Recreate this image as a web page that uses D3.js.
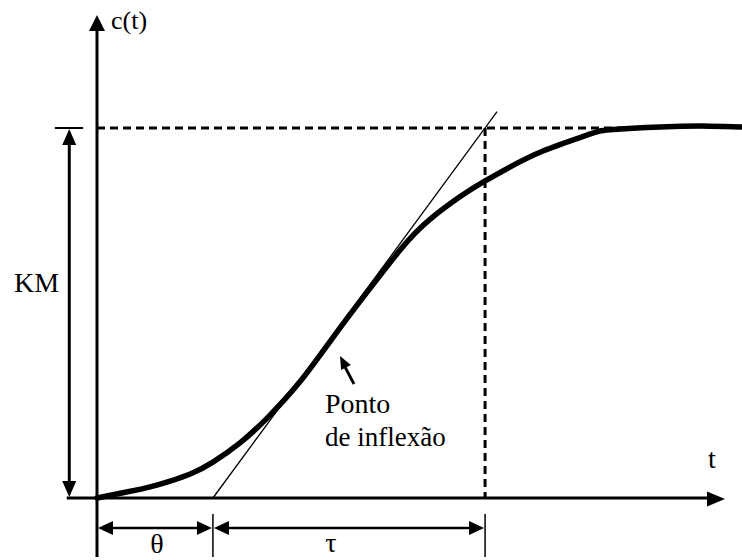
<!DOCTYPE html>
<html>
<head>
<meta charset="utf-8">
<script src="https://cdn.jsdelivr.net/npm/d3@7"></script>
<style>
  html, body { margin: 0; padding: 0; background: #fff; }
  svg { display: block; }
</style>
</head>
<body>
<svg id="chart" width="742" height="560"></svg>
<script>
// ---- data ----
const timeT    = [0, 0.41, 0.95, 1.48, 1.84, 2.27, 2.70, 3.22, 3.75, 4.29, 4.81, 5.05, 5.29, 5.76, 6.16, 6.56, 7.08, 7.78, 8.14, 8.94, 9.73, 10.24];
const response = [0, 0.014, 0.035, 0.065, 0.097, 0.149, 0.216, 0.314, 0.435, 0.557, 0.670, 0.716, 0.754, 0.814, 0.857, 0.895, 0.938, 0.981, 0.995, 1.003, 1.005, 1.003];
const tangentT = [1.84, 6.35];
const tangentC = [0, 1.044];
const deadTime = 1.84;      // θ
const tauEnd   = 6.16;      // θ + τ
const gainKM   = 1.0;       // KM
const labels = { yAxis: "c(t)", xAxis: "t", km: "KM", theta: "θ", tau: "τ", infl1: "Ponto", infl2: "de inflexão" };

// ---- scales ----
const x = d3.scaleLinear().domain([0, 10]).range([97, 727]);
const y = d3.scaleLinear().domain([0, 1]).range([498, 128]);

const svg = d3.select("#chart");
const FONT = "'Liberation Serif', 'Times New Roman', serif";

function headAt(tx, ty, angle, len, w) {
  const bx = tx - len * Math.cos(angle), by = ty - len * Math.sin(angle);
  const px = -Math.sin(angle) * w / 2, py = Math.cos(angle) * w / 2;
  const pts = [[tx, ty], [bx + px, by + py], [bx - px, by - py]];
  svg.append("polygon").attr("points", pts.map(p => p.join(",")).join(" ")).attr("fill", "#000");
}
function head(x0, y0, dir, len, w) {
  const a = { up: -Math.PI / 2, down: Math.PI / 2, left: Math.PI, right: 0 }[dir];
  headAt(x0, y0, a, len, w);
}
function line(x1, y1, x2, y2, w, dash) {
  const l = svg.append("line").attr("x1", x1).attr("y1", y1).attr("x2", x2).attr("y2", y2)
    .attr("stroke", "#000").attr("stroke-width", w);
  if (dash) l.attr("stroke-dasharray", dash);
  return l;
}
function label(tx, ty, s, size, anchor) {
  svg.append("text").attr("x", tx).attr("y", ty)
    .attr("style", "font-family:" + FONT + ";font-size:" + size + "px")
    .attr("fill", "#000")
    .attr("text-anchor", anchor || "start").text(s);
}

// dashed guides
line(x(0), y(gainKM), x(8.6), y(gainKM), 3, "8,5");
line(x(tauEnd), y(gainKM), x(tauEnd), y(0), 3, "8,5");

// axes
line(x(0), 557, x(0), 30, 3);
head(x(0), 15, "up", 16, 16);
line(x(-0.48), y(0), 712, y(0), 3);
head(x(10) - 2, y(0) + 1, "right", 18, 15);

// KM arrow
const kmX = x(-0.44);
line(kmX, y(gainKM) + 14, kmX, y(0) - 14, 3);
head(kmX, y(gainKM) + 1, "up", 16, 14);
head(kmX, y(0) - 1, "down", 16, 14);
line(x(-0.67), y(gainKM), x(-0.22), y(gainKM), 2);

// tangent
svg.append("path")
  .datum(tangentT.map((t, i) => [t, tangentC[i]]))
  .attr("d", d3.line().x(d => x(d[0])).y(d => y(d[1])))
  .attr("stroke", "#000").attr("stroke-width", 1.3).attr("fill", "none");

// response curve
svg.append("path")
  .datum(timeT.map((t, i) => [t, response[i]]))
  .attr("d", d3.line().x(d => x(d[0])).y(d => y(d[1])).curve(d3.curveNatural))
  .attr("stroke", "#000").attr("stroke-width", 5.5).attr("fill", "none")
  .attr("stroke-linecap", "round").attr("stroke-linejoin", "round");

// θ / τ dimension arrows below the axis
const dimY = 528;
line(x(deadTime), 514, x(deadTime), 557, 1.5);
line(x(tauEnd), 514, x(tauEnd), 557, 1.5);
line(x(0) + 12, dimY, x(deadTime) - 12, dimY, 2.5);
head(x(0) + 1, dimY, "left", 15, 14);
head(x(deadTime) - 1, dimY, "right", 15, 14);
line(x(deadTime) + 12, dimY, x(tauEnd) - 12, dimY, 2.5);
head(x(deadTime) + 1, dimY, "left", 15, 14);
head(x(tauEnd) - 1, dimY, "right", 15, 14);

// inflection arrow
const ang = Math.atan2(357 - 384, 340 - 354);
line(354, 384, 345, 367, 2.8);
headAt(340, 356, ang, 13, 11);

// texts
label(111, 29, labels.yAxis, 26);
label(14, 292, labels.km, 28);
label(708, 468, labels.xAxis, 28);
label(157, 553, labels.theta, 28, "middle");
label(331, 552, labels.tau, 28, "middle");
label(325, 413, labels.infl1, 28);
label(325, 446, labels.infl2, 27);
</script>
</body>
</html>
